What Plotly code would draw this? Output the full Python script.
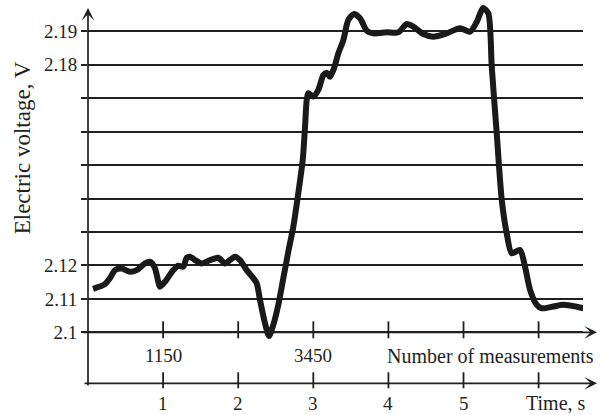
import plotly.graph_objects as go

# ---- data ----
time_s = [0.067, 0.226, 0.293, 0.360, 0.449, 0.559, 0.649, 0.759, 0.826, 0.892,
          0.936, 0.959, 1.025, 1.136, 1.202, 1.269, 1.314, 1.358, 1.425, 1.514,
          1.625, 1.735, 1.824, 1.891, 1.957, 2.024, 2.113, 2.201, 2.246, 2.290,
          2.357, 2.410, 2.467, 2.534, 2.601, 2.667, 2.734, 2.800, 2.859, 2.890,
          2.912, 2.933, 3.000, 3.067, 3.133, 3.178, 3.222, 3.276, 3.333, 3.400,
          3.466, 3.542, 3.622, 3.711, 3.799, 3.977, 4.132, 4.244, 4.332, 4.465,
          4.598, 4.776, 4.953, 5.087, 5.176, 5.260, 5.330, 5.376, 5.442, 5.509,
          5.575, 5.642, 5.752, 5.819, 5.886, 5.975, 6.041, 6.196, 6.329, 6.595]
voltage = [2.1130, 2.1144, 2.1162, 2.1186, 2.1191, 2.1181, 2.1186, 2.1206, 2.1211, 2.1191,
           2.1151, 2.1136, 2.1151, 2.1186, 2.1199, 2.1196, 2.1223, 2.1226, 2.1216, 2.1206,
           2.1216, 2.1223, 2.1206, 2.1216, 2.1226, 2.1216, 2.1186, 2.1162, 2.1147, 2.1097,
           2.1027, 2.0989, 2.1022, 2.1082, 2.1162, 2.1241, 2.1316, 2.1416, 2.1515, 2.1615,
           2.1695, 2.1715, 2.1705, 2.1725, 2.1769, 2.1776, 2.1764, 2.1790, 2.1834, 2.1874,
           2.1934, 2.1952, 2.1939, 2.1902, 2.1894, 2.1897, 2.1897, 2.1922, 2.1914, 2.1892,
           2.1884, 2.1894, 2.1909, 2.1899, 2.1928, 2.1970, 2.1954, 2.1794, 2.1595, 2.1396,
           2.1296, 2.1236, 2.1246, 2.1196, 2.1127, 2.1082, 2.1072, 2.1077, 2.1082, 2.1072]

grid_levels = [2.10, 2.11, 2.12, 2.13, 2.14, 2.15, 2.16, 2.17, 2.18, 2.19]
grid_labels = ["2.1", "2.11", "2.12", "", "", "", "", "", "2.18", "2.19"]
axis_ticks = [1, 2, 3, 4, 5, 6]
time_labels = ["1", "2", "3", "4", "5"]
meas_positions = [1, 3]
meas_labels = ["1150", "3450"]

# ---- layout constants ----
FONT = "Liberation Serif"
INK = "#231f20"
X_RANGE = [0, 6.591]
Y_RANGE = [2.08274, 2.19937]
MEAS_AXIS_V = 2.10
TIME_AXIS_V = 2.08475
PX = 0.01 / 33.44  # voltage units per pixel
TX = 1 / 75.1      # time units per pixel


def paper_x(t):
    return (t - X_RANGE[0]) / (X_RANGE[1] - X_RANGE[0])


def paper_y(v):
    return (v - Y_RANGE[0]) / (Y_RANGE[1] - Y_RANGE[0])


fig = go.Figure()
fig.add_trace(go.Scatter(
    x=time_s, y=voltage, mode="lines",
    line=dict(color="#1a1a1a", width=6, shape="spline", smoothing=0.7),
    hoverinfo="skip", showlegend=False,
))

annotations = []
shapes = []


def arrow(t_tip, v_tip, dx_px, dy_px):
    # tail is given as a pixel offset from the tip (dy positive = downward)
    annotations.append(dict(
        x=paper_x(t_tip), y=paper_y(v_tip), xref="paper", yref="paper",
        ax=dx_px, ay=dy_px, axref="pixel", ayref="pixel",
        text="", showarrow=True, arrowhead=3, arrowsize=1.25, arrowwidth=1.7,
        arrowcolor=INK, standoff=0, startstandoff=0))


# y axis with arrow
arrow(0, 2.1 + 324.3 * PX, 0, 379)
# measurement axis along the 2.1 level
arrow(509 * TX, MEAS_AXIS_V, -515, 0)
# time axis
arrow(509 * TX, TIME_AXIS_V, -514, 0)

for t in axis_ticks:
    shapes.append(dict(type="line", xref="x", yref="y", x0=t, x1=t,
                       y0=MEAS_AXIS_V - 6 * PX, y1=MEAS_AXIS_V + 11 * PX,
                       line=dict(color=INK, width=1.8)))
    shapes.append(dict(type="line", xref="x", yref="y", x0=t, x1=t,
                       y0=TIME_AXIS_V - 5 * PX, y1=TIME_AXIS_V + 11 * PX,
                       line=dict(color=INK, width=1.8)))


def label(t, v, text, size, xanchor="center", **kw):
    annotations.append(dict(x=paper_x(t), y=paper_y(v), xref="paper", yref="paper",
                            text=text, showarrow=False, xanchor=xanchor, yanchor="middle",
                            font=dict(family=FONT, size=size, color=INK), **kw))


for t, lab in zip(meas_positions, meas_labels):
    label(t, 2.1 - 23.7 * PX, lab, 19)
label(4, 2.1 - 23.7 * PX, "Number of measurements", 20, xanchor="left", xshift=-3)

for i, lab in enumerate(time_labels):
    label(axis_ticks[i], 2.1 - 71 * PX, lab, 19)
label(6.23, 2.1 - 71 * PX, "Time, s", 20)

# y title
label(-66 * TX, 2.1 + 185 * PX, "Electric voltage, V", 23, textangle=-90)

fig.update_layout(
    width=603, height=415,
    margin=dict(l=88, r=20, t=0, b=25, pad=0),
    paper_bgcolor="white", plot_bgcolor="white",
    xaxis=dict(range=X_RANGE, visible=False, fixedrange=True),
    yaxis=dict(range=Y_RANGE, tickvals=grid_levels, ticktext=grid_labels,
               showgrid=True, gridcolor=INK, gridwidth=1.6,
               ticks="outside", ticklen=6, tickwidth=1.6, tickcolor=INK,
               showline=False, zeroline=False, automargin=False,
               tickfont=dict(family=FONT, size=19, color=INK), fixedrange=True),
    shapes=shapes, annotations=annotations,
    showlegend=False,
)

fig.write_html("out.html", config={"displayModeBar": False},
               post_script="document.body.style.margin='0';")
